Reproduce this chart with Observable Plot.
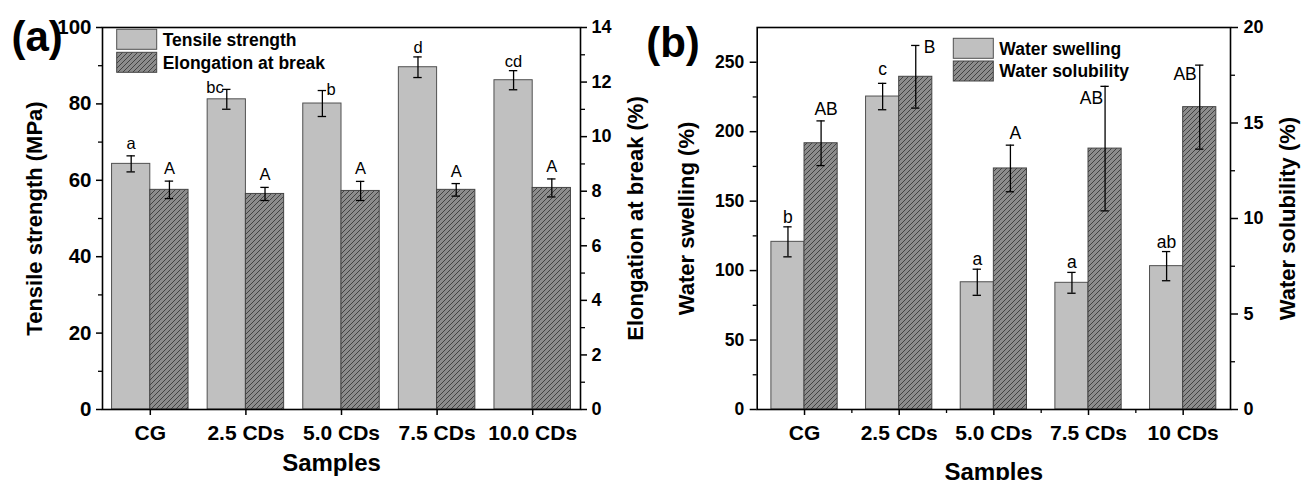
<!DOCTYPE html>
<html><head><meta charset="utf-8">
<script src="https://cdn.jsdelivr.net/npm/d3@7"></script>
<script src="https://cdn.jsdelivr.net/npm/@observablehq/plot@0.6"></script>
<style>
body{margin:0;background:#fff;}
#root{position:relative;width:1301px;height:480px;overflow:hidden;background:#fff;}
#root svg{position:absolute;top:0;overflow:visible;}
</style></head><body><div id="root"></div>
<script>
// ---------- Panel (a) data ----------
const samplesA = ["CG", "2.5 CDs", "5.0 CDs", "7.5 CDs", "10.0 CDs"];
const tensile = [64.3, 81.2, 80.1, 89.6, 86.2];
const tensileErr = [2.1, 2.6, 3.4, 2.7, 2.5];
const tensileLetters = ["a", "bc", "b", "d", "cd"];
const elongation = [8.05, 7.90, 8.01, 8.05, 8.12];
const elongationErr = [0.32, 0.24, 0.35, 0.23, 0.33];
const elongationLetters = ["A", "A", "A", "A", "A"];
const ticksTensile = [0, 20, 40, 60, 80, 100];
const minorTensile = [10, 30, 50, 70, 90];
const ticksElong = [0, 2, 4, 6, 8, 10, 12, 14];
const minorElong = [1, 3, 5, 7, 9, 11, 13];

// ---------- Panel (b) data ----------
const samplesB = ["CG", "2.5 CDs", "5.0 CDs", "7.5 CDs", "10 CDs"];
const swelling = [120.7, 225.3, 91.6, 91.2, 103.2];
const swellingErr = [10.8, 9.5, 9.4, 7.5, 10.5];
const swellingLetters = ["b", "c", "a", "a", "ab"];
const solubility = [13.94, 17.42, 12.62, 13.66, 15.83];
const solubilityErr = [1.17, 1.64, 1.22, 3.26, 2.2];
const solubilityLetters = ["AB", "B", "A", "AB", "AB"];
const ticksSwelling = [0, 50, 100, 150, 200, 250];
const minorSwelling = [25, 75, 125, 175, 225];
const ticksSolubility = [0, 5, 10, 15, 20];
const minorSolubility = [2.5, 7.5, 12.5, 17.5];

const FONT = '"Liberation Sans", Arial, Helvetica, sans-serif';
const LIGHT = "#c0c0c0", EDGE = "#505050";

function rowsFor(cats, vals, errs, letters, side, frac, k) {
  return cats.map((c, i) => ({
    i, cat: c,
    x1: side === "L" ? i - frac : i,
    x2: side === "L" ? i : i + frac,
    cx: side === "L" ? i - frac / 2 : i + frac / 2,
    v: vals[i] * k, lo: (vals[i] - errs[i]) * k, hi: (vals[i] + errs[i]) * k,
    letter: letters[i]
  }));
}

function addDefs(svg, id) {
  const s = d3.select(svg);
  const p = s.insert("defs", ":first-child").append("pattern")
    .attr("id", id).attr("patternUnits", "userSpaceOnUse")
    .attr("width", 5).attr("height", 5);
  p.append("rect").attr("width", 5).attr("height", 5).attr("fill", "#8c8c8c");
  p.append("path").attr("d", "M-1,1 l2,-2 M0,5 l5,-5 M4,6 l2,-2")
    .attr("stroke", "#3a3a3a").attr("stroke-width", 0.9);
}

function addLegend(svg, id, x, y0, y1, labels) {
  const g = d3.select(svg).append("g").attr("font-family", FONT).attr("text-anchor", "start");
  g.append("rect").attr("x", x).attr("y", y0 - 10).attr("width", 40).attr("height", 20)
    .attr("fill", LIGHT).attr("stroke", EDGE).attr("stroke-width", 1);
  g.append("rect").attr("x", x).attr("y", y1 - 10).attr("width", 40).attr("height", 20)
    .attr("fill", `url(#${id})`).attr("stroke", "#444").attr("stroke-width", 1);
  [[labels[0], y0], [labels[1], y1]].forEach(([t, y]) => {
    g.append("text").attr("x", x + 46).attr("y", y).attr("dy", "0.36em")
      .attr("text-anchor", "start")
      .attr("font-size", 17.5).attr("font-weight", "bold").attr("fill", "#000").text(t);
  });
}

const root = document.getElementById("root");

// ================= Panel (a) =================
{
  const k = 100 / 14;
  const L = rowsFor(samplesA, tensile, tensileErr, tensileLetters, "L", 0.4, 1);
  const R = rowsFor(samplesA, elongation, elongationErr, elongationLetters, "R", 0.4, k);
  const cap = 0.044;
  const rows = L.concat(R);
  const fmtR = v => String(Math.round(v / k * 100) / 100);
  const lt = {x: "cx", y: "hi", text: "letter", lineAnchor: "bottom", fontSize: 16.5, fill: "#000"};
  const chart = Plot.plot({
    width: 650, height: 480,
    marginLeft: 102, marginRight: 70, marginTop: 27, marginBottom: 71,
    style: {background: "transparent", fontFamily: FONT, color: "#000"},
    x: {type: "linear", domain: [-0.5, samplesA.length - 0.5]},
    y: {domain: [0, 100]},
    marks: [
      Plot.rectY(L, {x1: "x1", x2: "x2", y1: 0, y2: "v", fill: LIGHT, stroke: EDGE, strokeWidth: 1}),
      Plot.rectY(R, {x1: "x1", x2: "x2", y1: 0, y2: "v", fill: "url(#hatchA)", stroke: "#444", strokeWidth: 1}),
      Plot.ruleX(rows, {x: "cx", y1: "lo", y2: "hi", stroke: "#000", strokeWidth: 1.3}),
      Plot.ruleY(rows, {y: "hi", x1: d => d.cx - cap, x2: d => d.cx + cap, stroke: "#000", strokeWidth: 1.3}),
      Plot.ruleY(rows, {y: "lo", x1: d => d.cx - cap, x2: d => d.cx + cap, stroke: "#000", strokeWidth: 1.3}),
      Plot.text(L.filter(d => d.cat === "CG"), {...lt, dy: -7}),
      Plot.text(L.filter(d => d.cat === "2.5 CDs"), {...lt, dx: -3, dy: 4, textAnchor: "end"}),
      Plot.text(L.filter(d => d.cat === "5.0 CDs"), {...lt, dx: 4, dy: 4, textAnchor: "start"}),
      Plot.text(L.filter(d => d.cat === "7.5 CDs" || d.cat === "10.0 CDs"), {...lt, dy: -3.5}),
      Plot.text(R, {...lt, dy: -7}),
      Plot.frame({stroke: "#000", strokeWidth: 1.6}),
      Plot.axisY({anchor: "left", ticks: ticksTensile, tickSize: 6, tickPadding: 5, fontSize: 20.5, fontWeight: "bold", label: null, strokeWidth: 1.5}),
      Plot.axisY({anchor: "left", ticks: minorTensile, tickFormat: () => "", tickSize: 4, label: null, strokeWidth: 1.3}),
      Plot.axisY({anchor: "right", ticks: ticksElong.map(v => v * k), tickFormat: fmtR, tickSize: 6, tickPadding: 5, fontSize: 18, fontWeight: "bold", label: null, strokeWidth: 1.5}),
      Plot.axisY({anchor: "right", ticks: minorElong.map(v => v * k), tickFormat: () => "", tickSize: 4, label: null, strokeWidth: 1.3}),
      Plot.axisX({ticks: d3.range(samplesA.length), tickFormat: i => samplesA[i], tickSize: 6, tickPadding: 10, fontSize: 21, fontWeight: "bold", label: null, strokeWidth: 1.5}),
      Plot.text(["Tensile strength (MPa)"], {text: d => d, frameAnchor: "left", dx: -68, rotate: -90, textAnchor: "middle", lineAnchor: "middle", fontSize: 22, fontWeight: "bold", fill: "#000"}),
      Plot.text(["Elongation at break (%)"], {text: d => d, frameAnchor: "right", dx: 55, rotate: -90, textAnchor: "middle", lineAnchor: "middle", fontSize: 22, fontWeight: "bold", fill: "#000"}),
      Plot.text(["Samples"], {text: d => d, frameAnchor: "bottom", dx: -10, dy: 54, textAnchor: "middle", lineAnchor: "middle", fontSize: 24, fontWeight: "bold", fill: "#000"}),
      Plot.text(["(a)"], {text: d => d, frameAnchor: "top-left", dx: -91, dy: 23, textAnchor: "start", lineAnchor: "bottom", fontSize: 42, fontWeight: "bold", fill: "#000"})
    ]
  });
  chart.style.left = "0px";
  addDefs(chart, "hatchA");
  addLegend(chart, "hatchA", 116.7, 39.3, 62.3, ["Tensile strength", "Elongation at break"]);
  root.appendChild(chart);
}

// ================= Panel (b) =================
{
  const k = 275 / 20;
  const L = rowsFor(samplesB, swelling, swellingErr, swellingLetters, "L", 0.35, 1);
  const R = rowsFor(samplesB, solubility, solubilityErr, solubilityLetters, "R", 0.35, k);
  const cap = 0.044;
  const rows = L.concat(R);
  const fmtR = v => String(Math.round(v / k * 100) / 100);
  const centered = d => d.cat === "CG" || d.cat === "5.0 CDs";
  const lt = {x: "cx", y: "hi", text: "letter", lineAnchor: "bottom", fontSize: 17.5, fill: "#000"};
  const chart = Plot.plot({
    width: 661, height: 480,
    marginLeft: 116.7, marginRight: 71, marginTop: 27, marginBottom: 71,
    style: {background: "transparent", fontFamily: FONT, color: "#000"},
    x: {type: "linear", domain: [-0.5, samplesB.length - 0.5]},
    y: {domain: [0, 275]},
    marks: [
      Plot.rectY(L, {x1: "x1", x2: "x2", y1: 0, y2: "v", fill: LIGHT, stroke: EDGE, strokeWidth: 1}),
      Plot.rectY(R, {x1: "x1", x2: "x2", y1: 0, y2: "v", fill: "url(#hatchB)", stroke: "#444", strokeWidth: 1}),
      Plot.ruleX(rows, {x: "cx", y1: "lo", y2: "hi", stroke: "#000", strokeWidth: 1.3}),
      Plot.ruleY(rows, {y: "hi", x1: d => d.cx - cap, x2: d => d.cx + cap, stroke: "#000", strokeWidth: 1.3}),
      Plot.ruleY(rows, {y: "lo", x1: d => d.cx - cap, x2: d => d.cx + cap, stroke: "#000", strokeWidth: 1.3}),
      Plot.text(L.filter(d => d.cat !== "2.5 CDs"), {...lt, dy: -4}),
      Plot.text(L.filter(d => d.cat === "2.5 CDs"), {...lt, dy: -8}),
      Plot.text(R.filter(centered), {...lt, dx: 5, dy: -6}),
      Plot.text(R.filter(d => d.cat === "2.5 CDs"), {...lt, dx: 8, dy: 8, textAnchor: "start"}),
      Plot.text(R.filter(d => d.cat === "7.5 CDs"), {...lt, dx: -2, dy: 18, textAnchor: "end"}),
      Plot.text(R.filter(d => d.cat === "10 CDs"), {...lt, dx: -3, dy: 15, textAnchor: "end"}),
      Plot.frame({stroke: "#000", strokeWidth: 1.6}),
      Plot.axisY({anchor: "left", ticks: ticksSwelling, tickSize: 7, tickPadding: 6, fontSize: 17.5, fontWeight: "bold", label: null, strokeWidth: 1.5}),
      Plot.axisY({anchor: "left", ticks: minorSwelling, tickFormat: () => "", tickSize: 4, label: null, strokeWidth: 1.3}),
      Plot.axisY({anchor: "right", ticks: ticksSolubility.map(v => v * k), tickFormat: fmtR, tickSize: 7, tickPadding: 6, fontSize: 18, fontWeight: "bold", label: null, strokeWidth: 1.5}),
      Plot.axisY({anchor: "right", ticks: minorSolubility.map(v => v * k), tickFormat: () => "", tickSize: 4, label: null, strokeWidth: 1.3}),
      Plot.axisX({ticks: d3.range(samplesB.length), tickFormat: i => samplesB[i], tickSize: 6, tickPadding: 10, fontSize: 21, fontWeight: "bold", label: null, strokeWidth: 1.5}),
      Plot.axisX({ticks: d3.range(samplesB.length - 1).map(i => i + 0.5), tickFormat: () => "", tickSize: 4, label: null, strokeWidth: 1.3}),
      Plot.text(["Water swelling (%)"], {text: d => d, frameAnchor: "left", dx: -70, rotate: -90, textAnchor: "middle", lineAnchor: "middle", fontSize: 22, fontWeight: "bold", fill: "#000"}),
      Plot.text(["Water solubility (%)"], {text: d => d, frameAnchor: "right", dx: 57, rotate: -90, textAnchor: "middle", lineAnchor: "middle", fontSize: 22, fontWeight: "bold", fill: "#000"}),
      Plot.text(["Samples"], {text: d => d, frameAnchor: "bottom", dy: 63, textAnchor: "middle", lineAnchor: "middle", fontSize: 24, fontWeight: "bold", fill: "#000"}),
      Plot.text(["(b)"], {text: d => d, frameAnchor: "top-left", dx: -111, dy: 29, textAnchor: "start", lineAnchor: "bottom", fontSize: 42, fontWeight: "bold", fill: "#000"})
    ]
  });
  chart.style.left = "640px";
  addDefs(chart, "hatchB");
  addLegend(chart, "hatchB", 313.3, 48.3, 71, ["Water swelling", "Water solubility"]);
  root.appendChild(chart);
}
</script></body></html>
